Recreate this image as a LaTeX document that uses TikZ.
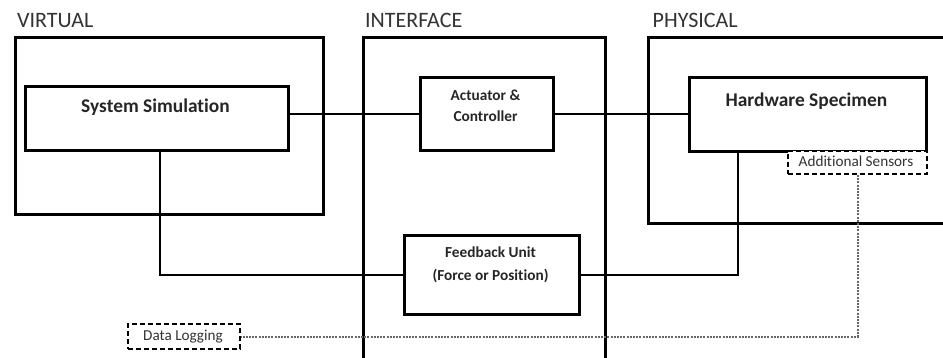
\documentclass[tikz,border=0pt]{standalone}
\usepackage{fontspec}
\setmainfont{Carlito}[Ligatures={NoCommon}]
\begin{document}
\begin{tikzpicture}[x=1pt,y=-1pt,
  frame/.style={draw=black,line width=3pt,inner sep=0pt,anchor=north west},
  blk/.style={draw=black,line width=3pt,inner sep=0pt,anchor=north west,fill=white},
  dbox/.style={draw=black,line width=2pt,dash pattern=on 5pt off 3pt,inner sep=0pt,anchor=north west,fill=white},
  conn/.style={draw=black,line width=2pt},
  dots/.style={draw=black!60,line width=2pt,dash pattern=on 2pt off 1.2pt},
  grp/.style={font=\fontsize{22}{24}\selectfont,text=black!80,anchor=base west,inner sep=0pt},
  btxt/.style={font=\bfseries\fontsize{19.4}{21}\selectfont,text=black!85,anchor=base,inner sep=0pt},
  stxt/.style={font=\bfseries\fontsize{15.3}{17}\selectfont,text=black!85,anchor=base,inner sep=0pt},
  ntxt/.style={font=\fontsize{15.2}{17}\selectfont,text=black!80,anchor=base,inner sep=0pt}]
\path[use as bounding box,clip] (0,0) rectangle (943,358);
\fill[white] (0,0) rectangle (943,358);
% group labels
\node[grp] (lv) at (17,27.5) {VIRTUAL};
\node[grp] (li) at (365,27.5) {INTERFACE};
\node[grp] (lp) at (652.5,27.5) {PHYSICAL};
% frames
\node[frame,minimum width=308pt,minimum height=177pt] (virt) at (14,36) {};
\node[frame,minimum width=242pt,minimum height=360pt] (intf) at (362,36) {};
\node[frame,minimum width=320pt,minimum height=186pt] (phys) at (647,36) {};
% connector taps
\coordinate (sstap) at (160,149);
\coordinate (hwtap) at (738,150);
% blocks
\node[blk,minimum width=263pt,minimum height=64pt] (sys) at (24,85) {};
\node[blk,minimum width=133pt,minimum height=73pt] (act) at (419,76) {};
\node[blk,minimum width=237pt,minimum height=74pt] (hw) at (688,76) {};
\node[blk,minimum width=175pt,minimum height=79pt] (fb) at (403,234) {};
\node[dbox,minimum width=139pt,minimum height=23pt] (sens) at (787,150) {};
\node[dbox,minimum width=112pt,minimum height=25pt] (dl) at (127,323) {};
\draw[conn] (sys.east |- act.west) -- (act.west);
\draw[conn] (act.east) -- (hw.west |- act.east);
\draw[conn] (sstap) |- (fb.west);
\draw[conn] (hwtap) |- (fb.east);
\draw[dots] (sens.south) |- (dl.east);
% texts
\node[btxt] (tsys) at (155.5,112.5) {System Simulation};
\node[stxt] (tact1) at (485.5,101) {Actuator \&};
\node[stxt] (tact2) at (485.5,122) {Controller};
\node[btxt] (thw) at (806.5,107) {Hardware Specimen};
\node[stxt] (tfb1) at (490.5,258) {Feedback Unit};
\node[stxt] (tfb2) at (490.5,280) {(Force or Position)};
\node[ntxt] (tsens) at (856,166.7) {Additional Sensors};
\node[ntxt] (tdl) at (183,340) {Data Logging};
\end{tikzpicture}
\end{document}
